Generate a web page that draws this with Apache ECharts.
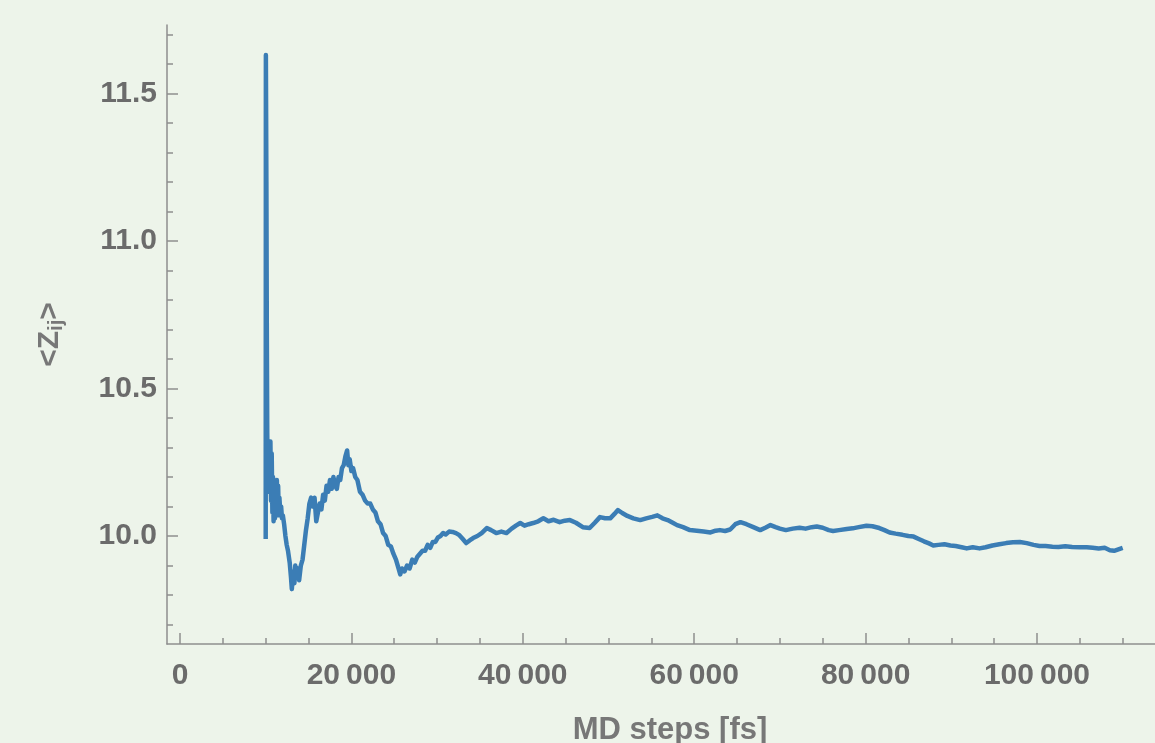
<!DOCTYPE html>
<html>
<head>
<meta charset="utf-8">
<script src="https://cdn.jsdelivr.net/npm/echarts@6/dist/echarts.min.js"></script>
<style>
  html, body { margin: 0; padding: 0; background: #edf4ea; }
  #chart { width: 1155px; height: 743px; }
</style>
</head>
<body>
<div id="chart"></div>
<script>
// ---- data ----
const stepsX = [
  10000, 10020, 10080, 10130, 10180, 10220, 10280, 10330, 10400, 10470, 10550, 10620, 10700, 10780,
  10850, 10920, 11000, 11080, 11150, 11230, 11300, 11380, 11450, 11530, 11600, 11700, 11800, 11900,
  12000, 12150, 12300, 12450, 12600, 12800, 12950, 13050, 13200, 13350,
  13450, 13600, 13750, 13900, 14100, 14300, 14500, 14700, 14900, 15100, 15300, 15500, 15700, 15900,
  16100, 16300, 16500, 16700, 16900, 17100, 17300, 17500, 17700, 17900, 18100, 18300, 18500, 18700,
  18900, 19100, 19300, 19500, 19650, 19800, 20000, 20200, 20450, 20700, 21000, 21300, 21600, 21900,
  22200, 22500, 22800, 23100, 23400, 23700, 24000, 24300, 24600, 24900, 25200, 25500, 25700, 25900,
  26200, 26500, 26800, 27100, 27400, 27700, 28000, 28300, 28600, 28900, 29200, 29500, 29800, 30100,
  30400, 30700, 31000, 31400, 31800, 32200, 32600, 33000, 33400, 33800, 34200, 34700, 35200, 35800,
  36300, 36900, 37500, 38100, 38700, 39200, 39700, 40200, 40700, 41200, 41800, 42400, 43000, 43600,
  44300, 44900, 45500, 46200, 47000, 47800, 48400, 49000, 49600, 50200, 50700, 51100, 51600, 52200,
  52900, 53700, 54400, 55100, 55700, 56300, 56900, 57500, 58000, 58700, 59500, 60300, 61100, 61900,
  62500, 63000, 63600, 64200, 64800, 65400, 66100, 66900, 67700, 68300, 68900, 69500, 70000, 70700,
  71500, 72300, 73000, 73700, 74300, 75000, 75700, 76200, 76900, 77800, 78500, 79200, 80100, 80800,
  81600, 82200, 82800, 83500, 84300, 85000, 85600, 86200, 86800, 87400, 87900, 88500, 89200, 89900,
  90500, 91200, 91800, 92500, 93300, 94000, 94800, 95600, 96400, 97200, 98000, 98800, 99600, 100300,
  101000, 101800, 102500, 103300, 104100, 105000, 105800, 106500, 107200, 107900, 108500, 109000,
  109500, 110000
];
const zijValues = [
  9.99, 11.63, 11.20, 10.70, 10.35, 10.22, 10.30, 10.15, 10.31, 10.20, 10.32, 10.12, 10.28, 10.08,
  10.20, 10.05, 10.14, 10.06, 10.18, 10.09, 10.19, 10.10, 10.17, 10.07, 10.13, 10.08, 10.10, 10.06,
  10.07, 10.04, 10.00, 9.97, 9.95, 9.91, 9.86, 9.82, 9.88, 9.84,
  9.90, 9.86, 9.89, 9.85, 9.90, 9.92, 9.97, 10.02, 10.06, 10.11, 10.13, 10.10, 10.13, 10.05,
  10.08, 10.11, 10.09, 10.14, 10.12, 10.17, 10.15, 10.19, 10.16, 10.20, 10.17, 10.16, 10.20, 10.19,
  10.23, 10.24, 10.27, 10.29, 10.24, 10.26, 10.22, 10.23, 10.20, 10.19, 10.15, 10.14, 10.12, 10.11,
  10.11, 10.09, 10.08, 10.05, 10.04, 10.01, 10.00, 9.97, 9.965, 9.94, 9.92, 9.89, 9.87, 9.89,
  9.88, 9.90, 9.89, 9.92, 9.91, 9.93, 9.94, 9.95, 9.95, 9.97, 9.96, 9.98, 9.98, 9.995,
  10.00, 10.01, 10.005, 10.015, 10.014, 10.01, 10.003, 9.99, 9.976, 9.985, 9.993, 10.00, 10.01, 10.027,
  10.02, 10.01, 10.015, 10.01, 10.025, 10.035, 10.044, 10.035, 10.04, 10.044, 10.05, 10.06, 10.05, 10.055,
  10.047, 10.052, 10.054, 10.045, 10.03, 10.027, 10.045, 10.064, 10.06, 10.06, 10.075, 10.088, 10.078, 10.068,
  10.06, 10.054, 10.06, 10.065, 10.07, 10.06, 10.054, 10.045, 10.037, 10.03, 10.02, 10.018, 10.015, 10.012,
  10.018, 10.02, 10.017, 10.022, 10.04, 10.047, 10.04, 10.03, 10.02, 10.028, 10.037, 10.03, 10.025, 10.02,
  10.025, 10.028, 10.025, 10.03, 10.032, 10.028, 10.02, 10.017, 10.02, 10.024, 10.026, 10.03, 10.035, 10.033,
  10.027, 10.02, 10.012, 10.008, 10.004, 10.00, 9.998, 9.99, 9.982, 9.975, 9.968, 9.97, 9.972, 9.968,
  9.966, 9.962, 9.958, 9.962, 9.958, 9.962, 9.968, 9.972, 9.976, 9.979, 9.98, 9.976, 9.97, 9.966,
  9.966, 9.964, 9.963, 9.965, 9.963, 9.962, 9.962, 9.96, 9.958, 9.96, 9.952, 9.95,
  9.955, 9.96
];
const xTickValues = [0, 20000, 40000, 60000, 80000, 100000];
const xTickLabels = ['0', '20\u2009000', '40\u2009000', '60\u2009000', '80\u2009000', '100\u2009000'];
const xMinorTicks = [5000, 10000, 15000, 25000, 30000, 35000, 45000, 50000, 55000, 65000, 70000, 75000,
  85000, 90000, 95000, 105000, 110000, 115000];
const yTickValues = [10.0, 10.5, 11.0, 11.5];
const yTickLabels = ['10.0', '10.5', '11.0', '11.5'];
const yMinorTicks = [9.7, 9.8, 9.9, 10.1, 10.2, 10.3, 10.4, 10.6, 10.7, 10.8, 10.9, 11.1, 11.2, 11.3, 11.4, 11.6, 11.7];
const xName = 'MD steps [fs]';

// ---- chart ----
const X_MIN = -1517, X_MAX = 115870;
const Y_MIN = 9.634, Y_MAX = 11.732;
const axisColor = '#8e8e8e';
const labelColor = '#6b6b6b';
const font = '"Liberation Sans", Arial, sans-serif';

const lineData = stepsX.map((x, i) => [x, zijValues[i]]);

const chart = echarts.init(document.getElementById('chart'), null, { renderer: 'canvas' });
chart.setOption({
  backgroundColor: '#edf4ea',
  animation: false,
  grid: { left: 167, right: -18, top: 25, bottom: 99, containLabel: false, outerBoundsMode: 'none' },
  xAxis: [
    {
      type: 'value', min: X_MIN, max: X_MAX,
      name: xName, nameLocation: 'middle', nameGap: 71,
      nameTextStyle: { color: '#777', fontSize: 31, fontWeight: 'bold', fontFamily: font },
      axisLine: { show: true, onZero: false, lineStyle: { color: axisColor, width: 1.5 } },
      axisTick: { show: true, inside: true, length: 11, customValues: xTickValues, lineStyle: { color: axisColor, width: 1.5 } },
      axisLabel: {
        show: true, customValues: xTickValues, margin: 17, color: labelColor, fontSize: 30, fontWeight: 'bold', fontFamily: font,
        formatter: v => { const i = xTickValues.indexOf(v); return i >= 0 ? xTickLabels[i] : ''; }
      },
      splitLine: { show: false }
    },
    {
      type: 'value', min: X_MIN, max: X_MAX, gridIndex: 0, position: 'bottom',
      axisLine: { show: false, onZero: false },
      axisTick: { show: true, inside: true, length: 6, customValues: xMinorTicks, lineStyle: { color: axisColor, width: 1.5 } },
      axisLabel: { show: false },
      splitLine: { show: false }
    }
  ],
  yAxis: [
    {
      type: 'value', min: Y_MIN, max: Y_MAX,
      name: '<Z{sub|ij}>', nameLocation: 'middle', nameGap: 101,
      nameTextStyle: {
        color: '#777', fontSize: 30, fontWeight: 'bold', fontFamily: font,
        rich: { sub: { fontSize: 20, fontWeight: 'bold', color: '#777', fontFamily: font, padding: [12, 0, 0, 0] } }
      },
      axisLine: { show: true, onZero: false, lineStyle: { color: axisColor, width: 1.5 } },
      axisTick: { show: true, inside: true, length: 11, customValues: yTickValues, lineStyle: { color: axisColor, width: 1.5 } },
      axisLabel: {
        show: true, customValues: yTickValues, margin: 10, color: labelColor, fontSize: 30, fontWeight: 'bold', fontFamily: font,
        formatter: v => { let i = yTickValues.findIndex(t => Math.abs(t - v) < 1e-6); return i >= 0 ? yTickLabels[i] : ''; }
      },
      splitLine: { show: false }
    },
    {
      type: 'value', min: Y_MIN, max: Y_MAX, gridIndex: 0, position: 'left',
      axisLine: { show: false, onZero: false },
      axisTick: { show: true, inside: true, length: 6, customValues: yMinorTicks, lineStyle: { color: axisColor, width: 1.5 } },
      axisLabel: { show: false },
      splitLine: { show: false }
    }
  ],
  series: [{
    type: 'line',
    xAxisIndex: 0, yAxisIndex: 0,
    data: lineData,
    showSymbol: false,
    symbol: 'none',
    lineStyle: { color: '#3b7db5', width: 4.5, join: 'round' },
    clip: true
  }]
});
</script>
</body>
</html>
